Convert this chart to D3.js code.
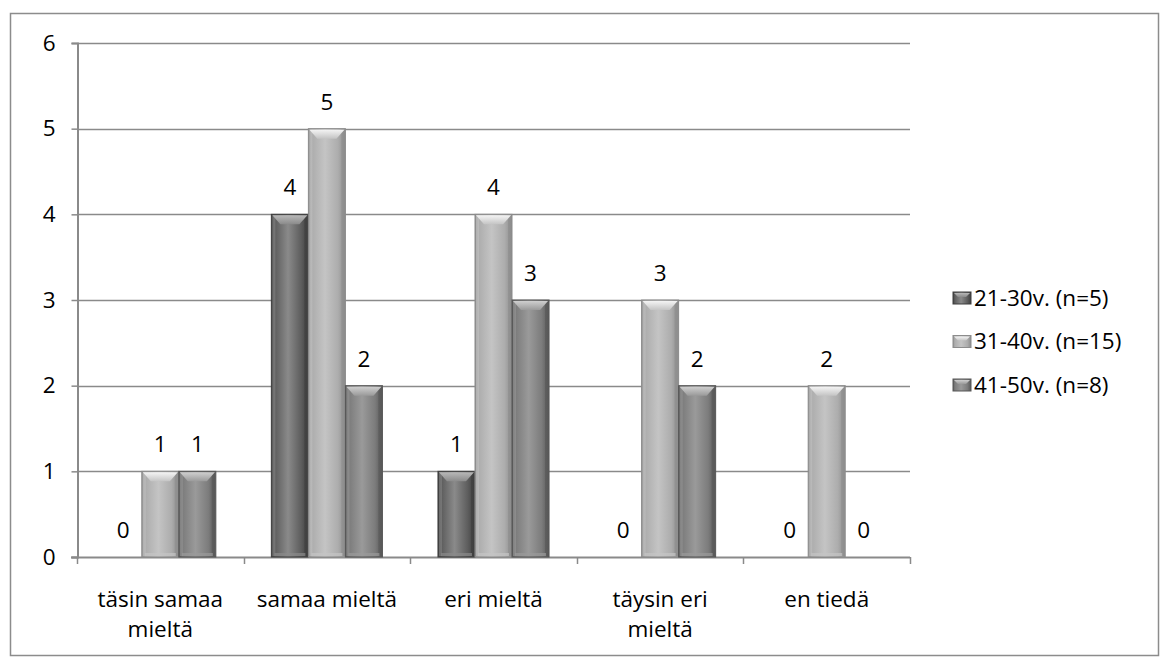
<!DOCTYPE html>
<html>
<head>
<meta charset="utf-8">
<script src="https://cdn.jsdelivr.net/npm/d3@7"></script>
<style>
  html, body { margin: 0; padding: 0; background: #fff; }
  svg { display: block; font-family: "Open Sans", Lato, sans-serif; }
</style>
</head>
<body>
<svg id="chart" width="1165" height="666"></svg>
<script>
// Vastausvaihtoehdot ja ikäryhmittäiset vastausmäärät
const categories = ["täsin samaa mieltä", "samaa mieltä", "eri mieltä", "täysin eri mieltä", "en tiedä"];
const categoryLines = [["täsin samaa", "mieltä"], ["samaa mieltä"], ["eri mieltä"], ["täysin eri", "mieltä"], ["en tiedä"]];
const seriesNames = ["21-30v. (n=5)", "31-40v. (n=15)", "41-50v. (n=8)"];
const values21_30 = [0, 4, 1, 0, 0];
const values31_40 = [1, 5, 4, 3, 2];
const values41_50 = [1, 2, 3, 2, 0];
const yTicks = [0, 1, 2, 3, 4, 5, 6];

const seriesValues = [values21_30, values31_40, values41_50];
const palette = [
  { base: "#5e5e5e", edge: "#3e3e3e", light: "#8a8a8a", top: "#b8b8b8" },
  { base: "#adadad", edge: "#8c8c8c", light: "#c4c4c4", top: "#f4f4f4" },
  { base: "#7c7c7c", edge: "#575757", light: "#9a9a9a", top: "#cfcfcf" }
];
const fontSize = 22.5;

const svg = d3.select("#chart");
const margin = { left: 77, top: 43, right: 910, bottom: 557 };

// Ulkokehys
svg.append("rect")
  .attr("x", 10.5).attr("y", 13.5)
  .attr("width", 1148).attr("height", 642)
  .attr("fill", "#fff").attr("stroke", "#8c8c8c").attr("stroke-width", 1.5);

const x0 = d3.scaleBand().domain(categories).range([margin.left, margin.right]).paddingInner(0).paddingOuter(0);
const groupPad = x0.bandwidth() * (1.5 / 4.5) / 2;
const x1 = d3.scaleBand().domain(d3.range(3)).range([groupPad, x0.bandwidth() - groupPad]).padding(0);
const y = d3.scaleLinear().domain([0, 6]).range([margin.bottom, margin.top]);

// Gradients for the bevelled bars
const defs = svg.append("defs");
palette.forEach((p, i) => {
  const g = defs.append("linearGradient").attr("id", "body" + i).attr("x1", "0").attr("x2", "1").attr("y1", "0").attr("y2", "0");
  g.append("stop").attr("offset", "0").attr("stop-color", p.edge);
  g.append("stop").attr("offset", "0.1").attr("stop-color", p.base);
  g.append("stop").attr("offset", "0.45").attr("stop-color", p.light);
  g.append("stop").attr("offset", "0.8").attr("stop-color", p.base);
  g.append("stop").attr("offset", "1").attr("stop-color", p.edge);
  const t = defs.append("linearGradient").attr("id", "top" + i).attr("x1", "0").attr("x2", "0").attr("y1", "0").attr("y2", "1");
  t.append("stop").attr("offset", "0").attr("stop-color", p.top);
  t.append("stop").attr("offset", "1").attr("stop-color", p.light);
});

// Vaakasuorat ruudukkoviivat
svg.append("g").selectAll("line").data(yTicks.filter(d => d > 0)).join("line")
  .attr("x1", margin.left).attr("x2", margin.right)
  .attr("y1", d => Math.round(y(d)) + 0.5).attr("y2", d => Math.round(y(d)) + 0.5)
  .attr("stroke", "#8a8a8a").attr("stroke-width", 1.5);

// Y-akseli
const yAxis = svg.append("g").attr("transform", `translate(${margin.left + 0.5},0)`)
  .call(d3.axisLeft(y).tickValues(yTicks).tickSize(6).tickPadding(16).tickFormat(d3.format("d")));
yAxis.select(".domain").attr("stroke", "#8a8a8a").attr("stroke-width", 2);
yAxis.selectAll(".tick line").attr("stroke", "#8a8a8a").attr("stroke-width", 1.5);
yAxis.selectAll(".tick text").attr("font-size", fontSize).attr("fill", "#000").attr("font-family", "'Open Sans', sans-serif");

// X-akseli jakoviivoineen
const xAxisG = svg.append("g");
xAxisG.append("line")
  .attr("x1", margin.left - 6).attr("x2", margin.right)
  .attr("y1", margin.bottom + 0.5).attr("y2", margin.bottom + 0.5)
  .attr("stroke", "#8a8a8a").attr("stroke-width", 2);
const boundaries = categories.map(c => x0(c)).concat([x0(categories[categories.length - 1]) + x0.bandwidth()]);
xAxisG.selectAll("line.tick").data(boundaries).join("line").attr("class", "tick")
  .attr("x1", d => Math.round(d) + 0.5).attr("x2", d => Math.round(d) + 0.5)
  .attr("y1", margin.bottom).attr("y2", margin.bottom + 7)
  .attr("stroke", "#8a8a8a").attr("stroke-width", 1.5);

// Luokkien nimet
const catLabels = svg.append("g").selectAll("text").data(categories).join("text")
  .attr("x", d => x0(d) + x0.bandwidth() / 2)
  .attr("y", 607)
  .attr("text-anchor", "middle").attr("font-size", fontSize).attr("fill", "#000");
catLabels.each(function(d, i) {
  const t = d3.select(this);
  categoryLines[i].forEach((line, j) => {
    t.append("tspan").attr("x", x0(d) + x0.bandwidth() / 2).attr("dy", j === 0 ? 0 : 30).text(line);
  });
});

// Pylväät
const bars = [];
categories.forEach((c, ci) => {
  seriesValues.forEach((vals, si) => {
    bars.push({ cat: c, si, v: vals[ci] });
  });
});

const barG = svg.append("g");
bars.forEach(b => {
  const bx = x0(b.cat) + x1(b.si);
  const bw = x1.bandwidth();
  const top = y(b.v);
  const h = y(0) - top;
  const p = palette[b.si];
  if (h <= 0) return;
  const g = barG.append("g");
  g.append("rect").attr("x", bx).attr("y", top).attr("width", bw).attr("height", h)
    .attr("fill", `url(#body${b.si})`).attr("stroke", p.edge).attr("stroke-width", 1);
  // inner side bevels
  g.append("rect").attr("x", bx + 1).attr("y", top + 1).attr("width", 3).attr("height", h - 2)
    .attr("fill", p.light).attr("opacity", 0.55);
  g.append("rect").attr("x", bx + bw - 4).attr("y", top + 1).attr("width", 3).attr("height", h - 2)
    .attr("fill", p.edge).attr("opacity", 0.6);
  // top bevel
  const bev = Math.min(10, h / 2);
  g.append("path")
    .attr("d", `M${bx + 1},${top + 1} L${bx + bw - 1},${top + 1} L${bx + bw - 9},${top + bev} L${bx + 9},${top + bev} Z`)
    .attr("fill", `url(#top${b.si})`);
  // bottom bevel
  g.append("rect").attr("x", bx + 3).attr("y", y(0) - 4).attr("width", bw - 6).attr("height", 3)
    .attr("fill", p.light).attr("opacity", 0.7);
});

// Arvotunnisteet
svg.append("g").selectAll("text").data(bars).join("text")
  .attr("x", d => x0(d.cat) + x1(d.si) + x1.bandwidth() / 2)
  .attr("y", d => y(d.v) - 19)
  .attr("text-anchor", "middle").attr("font-size", fontSize).attr("fill", "#000")
  .text(d => d.v);

// Selite
const legend = svg.append("g");
seriesNames.forEach((name, i) => {
  const ly = 298 + i * 43.5;
  const p = palette[i];
  legend.append("rect").attr("x", 953).attr("y", ly - 6).attr("width", 18).attr("height", 12)
    .attr("fill", `url(#body${i})`).attr("stroke", p.edge).attr("stroke-width", 1);
  legend.append("path")
    .attr("d", `M${954},${ly - 5} L${970},${ly - 5} L${966},${ly - 1} L${958},${ly - 1} Z`)
    .attr("fill", `url(#top${i})`);
  legend.append("text").attr("x", 974).attr("y", ly).attr("dy", "0.35em")
    .attr("font-size", fontSize).attr("fill", "#000").text(name);
});
</script>
</body>
</html>
